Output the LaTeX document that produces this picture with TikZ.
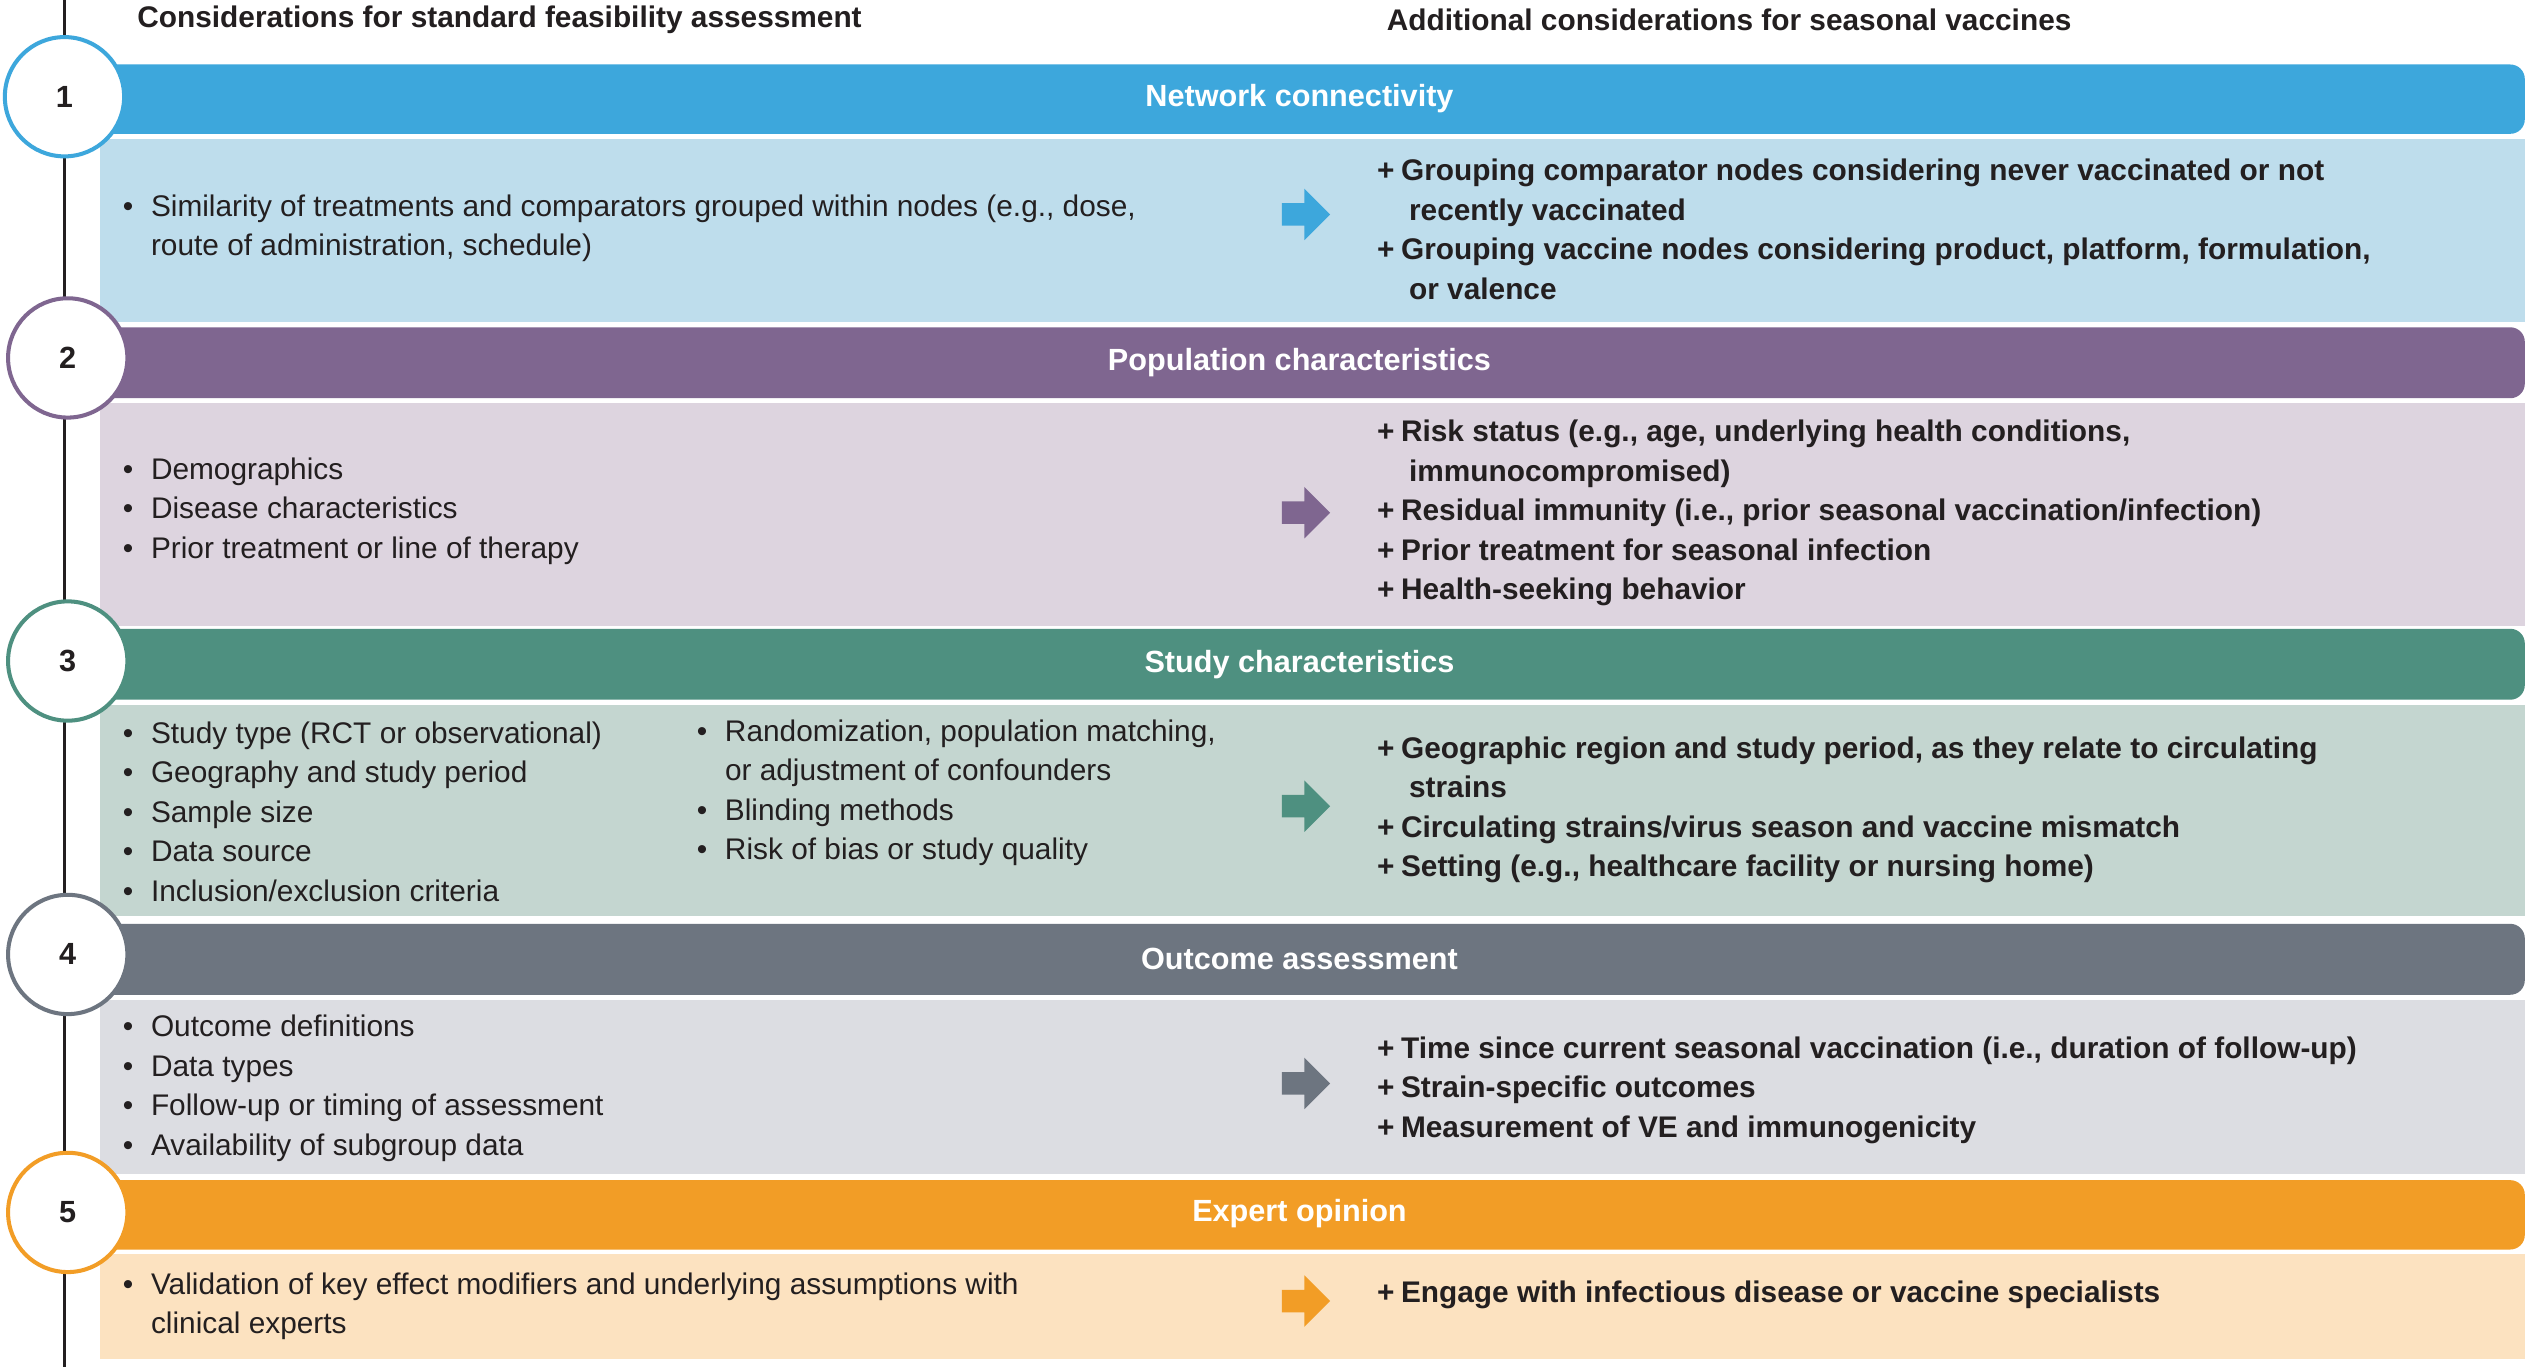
\documentclass[tikz,border=0pt]{standalone}
\usepackage{fontspec}
\setmainfont{Liberation Sans}
\usetikzlibrary{positioning}
\definecolor{tx}{HTML}{231F20}
\definecolor{c1}{HTML}{3DA7DC}\definecolor{l1}{HTML}{BEDDEC}
\definecolor{c2}{HTML}{7F6690}\definecolor{l2}{HTML}{DDD4DF}
\definecolor{c3}{HTML}{4E9080}\definecolor{l3}{HTML}{C4D6D0}
\definecolor{c4}{HTML}{6D7580}\definecolor{l4}{HTML}{DCDDE2}
\definecolor{c5}{HTML}{F29D26}\definecolor{l5}{HTML}{FCE2C0}
\newcommand{\bandA}[5]{% color light ytop ymid ybot
  \fill[#2] (62,#4+3) rectangle (1566,#5);
  \fill[#1] (62,#3) [rounded corners=9]-- (1566,#3) -- (1566,#4) [sharp corners]-- (62,#4) -- cycle;}
\newcommand{\barrow}[2]{\fill[#1] (795,#2-7) -- (809,#2-7) -- (809,#2-16) -- (825,#2) -- (809,#2+16) -- (809,#2+7) -- (795,#2+7) -- cycle;}
\tikzset{
  txt/.style={font=\fontsize{18.5}{24.5}\selectfont, text=tx, inner sep=0pt, anchor=west, align=left},
  rtxt/.style={txt, font=\fontsize{18.5}{24.5}\selectfont\bfseries},
  head/.style={font=\fontsize{19}{23}\selectfont\bfseries, text=white, inner sep=0pt},
  num/.style={circle, minimum size=74pt, fill=white, draw=#1, line width=2.5pt, font=\fontsize{19}{23}\selectfont\bfseries, text=tx, inner sep=0pt},
}
\newcommand{\lb}[1]{\begin{tabular}{@{}l@{\hspace{11pt}}l@{}}#1\end{tabular}}
\newcommand{\rb}[1]{\begin{tabular}{@{}l@{\hspace{4pt}}l@{}}#1\end{tabular}}
\begin{document}
\begin{tikzpicture}[x=1pt,y=-1pt]
\useasboundingbox[fill=white] (0,0) rectangle (1568,848);
\draw[tx, line width=1.5pt] (40,0) -- (40,848);
\node[txt, font=\fontsize{18.5}{22}\selectfont\bfseries] (hl) at (85,12) {Considerations for standard feasibility assessment};
\node[txt, font=\fontsize{18.5}{22}\selectfont\bfseries] (hr) at (860,12) {Additional considerations for seasonal vaccines};
\bandA{c1}{l1}{40}{83}{200}
\bandA{c2}{l2}{203}{247}{388}
\bandA{c3}{l3}{390}{434}{568}
\bandA{c4}{l4}{573}{617}{728}
\bandA{c5}{l5}{732}{775}{843}
\node[head] (h1) at (806,61) {Network connectivity};
\node[head] (h2) at (806,225) {Population characteristics};
\node[head] (h3) at (806,412) {Study characteristics};
\node[head] (h4) at (806,595) {Outcome assessment};
\node[head] (h5) at (806,753) {Expert opinion};
\node[num=c1] (n1) at (40,60) {1};
\node[num=c2] (n2) at (42,222) {2};
\node[num=c3] (n3) at (42,410) {3};
\node[num=c4] (n4) at (42,592) {4};
\node[num=c5] (n5) at (42,752) {5};
\barrow{c1}{133}\barrow{c2}{318}\barrow{c3}{500}\barrow{c4}{672}\barrow{c5}{807}
% left lists
\node[txt] (a1) at (76,141.5) {\lb{• & Similarity of treatments and comparators grouped within nodes (e.g., dose,\\ & route of administration, schedule)}};
\node[txt] (a2) at (76,317) {\lb{• & Demographics\\ • & Disease characteristics\\ • & Prior treatment or line of therapy}};
\node[txt] (a3) at (76,505) {\lb{• & Study type (RCT or observational)\\ • & Geography and study period\\ • & Sample size\\ • & Data source\\ • & Inclusion/exclusion criteria}};
\node[txt] (a3b) at (432,491.5) {\lb{• & Randomization, population matching,\\ & or adjustment of confounders\\ • & Blinding methods\\ • & Risk of bias or study quality}};
\node[txt] (a4) at (76,675) {\lb{• & Outcome definitions\\ • & Data types\\ • & Follow-up or timing of assessment\\ • & Availability of subgroup data}};
\node[txt] (a5) at (76,810) {\lb{• & Validation of key effect modifiers and underlying assumptions with\\ & clinical experts}};
% right lists
\node[rtxt] (b1) at (854,144) {\rb{+ & Grouping comparator nodes considering never vaccinated or not\\ & \hspace{5pt}recently vaccinated\\ + & Grouping vaccine nodes considering product, platform, formulation,\\ & \hspace{5pt}or valence}};
\node[rtxt] (b2) at (854,318) {\rb{+ & Risk status (e.g., age, underlying health conditions,\\ & \hspace{5pt}immunocompromised)\\ + & Residual immunity (i.e., prior seasonal vaccination/infection)\\ + & Prior treatment for seasonal infection\\ + & Health-seeking behavior}};
\node[rtxt] (b3) at (854,502) {\rb{+ & Geographic region and study period, as they relate to circulating\\ & \hspace{5pt}strains\\ + & Circulating strains/virus season and vaccine mismatch\\ + & Setting (e.g., healthcare facility or nursing home)}};
\node[rtxt] (b4) at (854,676) {\rb{+ & Time since current seasonal vaccination (i.e., duration of follow-up)\\ + & Strain-specific outcomes\\ + & Measurement of VE and immunogenicity}};
\node[rtxt] (b5) at (854,803) {\rb{+ & Engage with infectious disease or vaccine specialists}};
\end{tikzpicture}
\end{document}
